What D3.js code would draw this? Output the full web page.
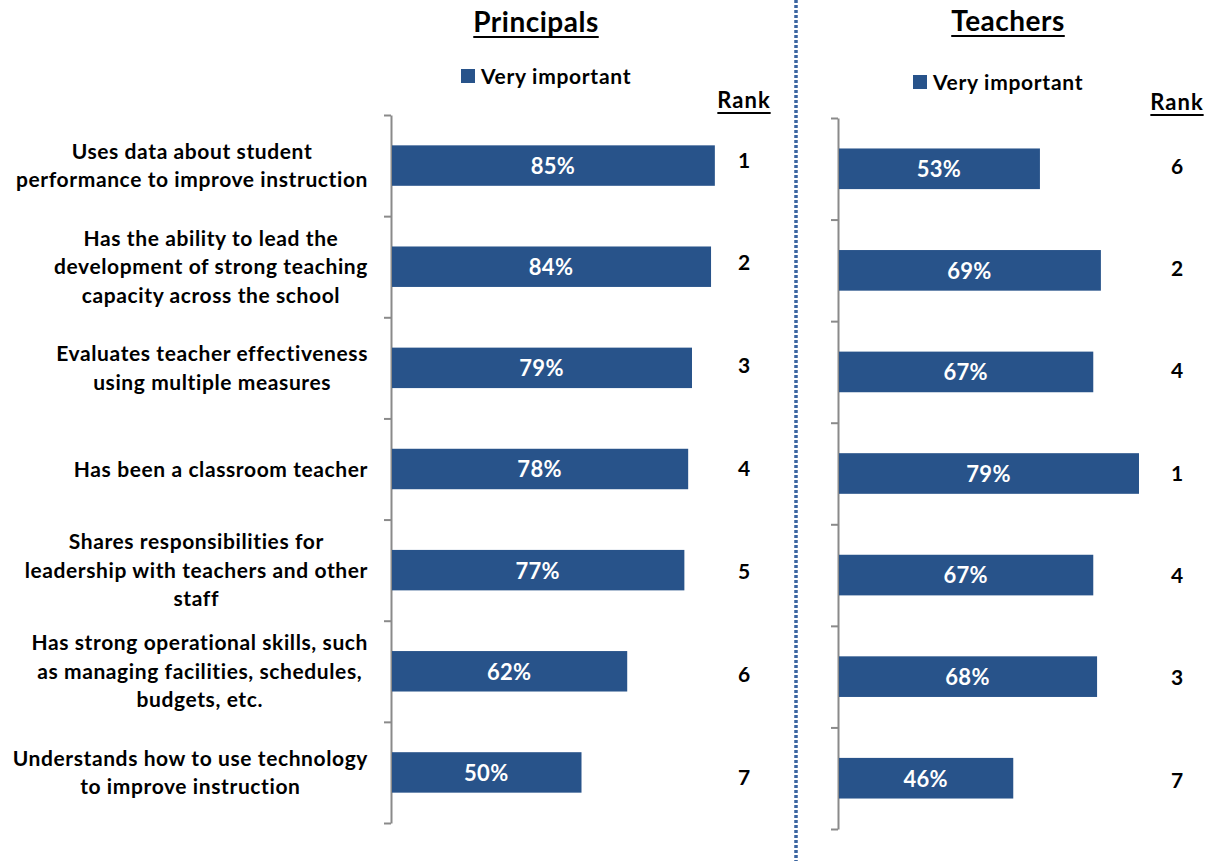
<!DOCTYPE html>
<html>
<head>
<meta charset="utf-8">
<script src="https://cdn.jsdelivr.net/npm/d3@7"></script>
<style>
  html, body { margin: 0; padding: 0; background: #fff; }
  svg { display: block; }
  text { font-family: "Lato", "Noto Sans", sans-serif; font-weight: bold; }
</style>
</head>
<body>
<svg id="chart" width="1214" height="861"></svg>
<script>
// ---- data ----
const categories = [
  "Uses data about student|performance to improve instruction",
  "Has the ability to lead the|development of strong teaching|capacity across the school",
  "Evaluates teacher effectiveness|using multiple measures",
  "Has been a classroom teacher",
  "Shares responsibilities for|leadership with teachers and other|staff",
  "Has strong operational skills, such|as managing facilities, schedules,|budgets, etc.",
  "Understands how to use technology|to improve instruction"
];
const principalsValues = [0.85, 0.84, 0.79, 0.78, 0.77, 0.62, 0.50];
const teachersValues   = [0.53, 0.69, 0.67, 0.79, 0.67, 0.68, 0.46];
const principalsRanks  = [1, 2, 3, 4, 5, 6, 7];
const teachersRanks    = [6, 2, 4, 1, 4, 3, 7];
const panelTitles = ["Principals", "Teachers"];
const legendLabel = "Very important";
const rankHeader = "Rank";

// ---- style ----
const barColor = "#28538a";
const axisColor = "#8a8a8a";
const dividerColor = "#3a64a0";

const svg = d3.select("#chart");

const panels = [
  { title: panelTitles[0], values: principalsValues, ranks: principalsRanks,
    x0: 391, yTop: 115, yBot: 823, titleX: 536, titleY: 32,
    legX: 461, legY: 69, rankX: 744, rankHeadY: 108, rankRange: [160, 777], labels: true },
  { title: panelTitles[1], values: teachersValues, ranks: teachersRanks,
    x0: 838, yTop: 118, yBot: 829, titleX: 1008, titleY: 31,
    legX: 913, legY: 75, rankX: 1177, rankHeadY: 110, rankRange: [166, 780], labels: false }
];

const barW = 381; // pixels for 100%

panels.forEach(p => {
  const g = svg.append("g");
  const x = d3.scaleLinear().domain([0, 1]).range([p.x0, p.x0 + barW]);
  const y = d3.scaleBand().domain(d3.range(categories.length)).range([p.yTop, p.yBot]).paddingInner(0.6).paddingOuter(0.3);
  const yEdge = d3.scaleLinear().domain([0, categories.length]).range([p.yTop, p.yBot]);
  const yRank = d3.scalePoint().domain(d3.range(categories.length)).range(p.rankRange);

  // axis
  const ax = g.append("g").attr("transform", `translate(${p.x0},0)`)
    .call(d3.axisLeft(yEdge).tickValues(d3.range(categories.length + 1)).tickFormat("").tickSize(7).tickSizeOuter(0));
  ax.selectAll("path, line").attr("stroke", axisColor).attr("stroke-width", 2);

  // bars
  g.selectAll("rect.bar").data(p.values).join("rect")
    .attr("class", "bar")
    .attr("x", x(0) + 1)
    .attr("y", (d, i) => y(i))
    .attr("width", d => x(d) - x(0) - 1)
    .attr("height", y.bandwidth())
    .attr("fill", barColor);

  // value labels
  g.selectAll("text.val").data(p.values).join("text")
    .attr("class", "val")
    .attr("x", d => (x(0) + x(d)) / 2)
    .attr("y", (d, i) => y(i) + y.bandwidth() / 2)
    .attr("dy", "0.38em")
    .attr("text-anchor", "middle")
    .attr("fill", "#fff")
    .attr("font-size", 22)
    .attr("letter-spacing", 0.3)
    .text(d => Math.round(d * 100) + "%");

  // ranks
  g.selectAll("text.rank").data(p.ranks).join("text")
    .attr("class", "rank")
    .attr("x", p.rankX)
    .attr("y", (d, i) => yRank(i))
    .attr("dy", "0.36em")
    .attr("text-anchor", "middle")
    .attr("fill", "#000")
    .attr("font-size", 21)
    .text(d => d);

  // rank header with underline
  const rh = g.append("text").attr("x", p.rankX).attr("y", p.rankHeadY)
    .attr("text-anchor", "middle").attr("font-size", 22).attr("letter-spacing", 1).attr("fill", "#000").text(rankHeader);
  const rhw = rh.node().getComputedTextLength();
  g.append("line").attr("x1", p.rankX - rhw / 2).attr("x2", p.rankX + rhw / 2)
    .attr("y1", p.rankHeadY + 5).attr("y2", p.rankHeadY + 5).attr("stroke", "#000").attr("stroke-width", 2);

  // title with underline
  const t = g.append("text").attr("x", p.titleX).attr("y", p.titleY)
    .attr("text-anchor", "middle").attr("font-size", 28).attr("letter-spacing", 0.5).attr("fill", "#000").text(p.title);
  const tw = t.node().getComputedTextLength();
  g.append("line").attr("x1", p.titleX - tw / 2).attr("x2", p.titleX + tw / 2)
    .attr("y1", p.titleY + 5).attr("y2", p.titleY + 5).attr("stroke", "#000").attr("stroke-width", 2.2);

  // legend
  g.append("rect").attr("x", p.legX).attr("y", p.legY).attr("width", 14).attr("height", 14).attr("fill", barColor);
  g.append("text").attr("x", p.legX + 20).attr("y", p.legY + 7).attr("dy", "0.36em")
    .attr("font-size", 21).attr("letter-spacing", 0.7).attr("fill", "#000").text(legendLabel);

  // category labels
  if (p.labels) {
    const rightEdge = 368, lh = 28.5;
    categories.forEach((c, i) => {
      const lines = c.split("|");
      const cy = y(i) + y.bandwidth() / 2;
      const tg = g.append("g");
      const texts = lines.map((ln, j) => tg.append("text")
        .attr("y", cy + (j - (lines.length - 1) / 2) * lh)
        .attr("dy", "0.36em")
        .attr("text-anchor", "middle")
        .attr("font-size", 21)
        .attr("letter-spacing", 0.6)
        .attr("fill", "#000")
        .text(ln));
      const maxW = d3.max(texts, tx => tx.node().getComputedTextLength());
      texts.forEach(tx => tx.attr("x", rightEdge - maxW / 2));
    });
  }
});

// divider
svg.append("line").attr("x1", 796).attr("x2", 796).attr("y1", 0).attr("y2", 861)
  .attr("stroke", dividerColor).attr("stroke-width", 3.5).attr("stroke-dasharray", "3,2");
</script>
</body>
</html>
